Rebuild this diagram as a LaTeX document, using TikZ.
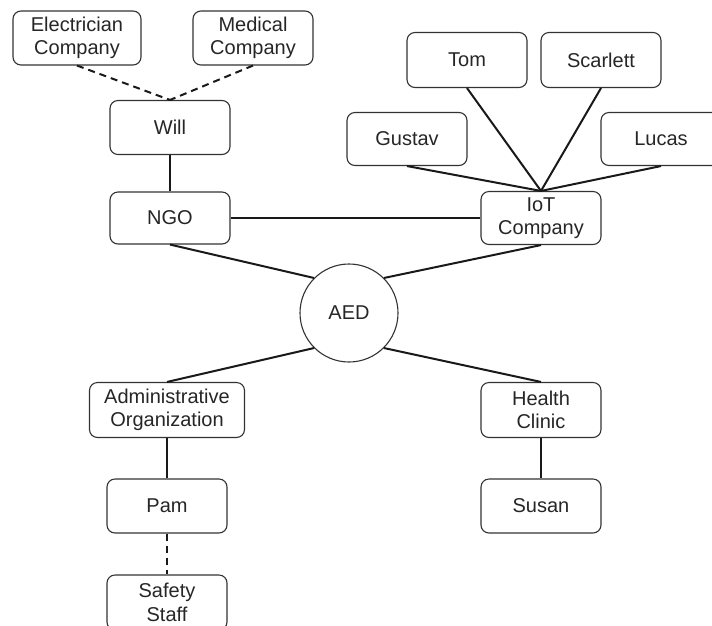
\documentclass[tikz,border=0pt]{standalone}
\usepackage{fontspec}
\setmainfont{Liberation Sans}
\begin{document}
\begin{tikzpicture}[x=1pt,y=-1pt,
  box/.style={draw=black!80, line width=1.1pt, rounded corners=8pt, fill=white,
    align=center, inner sep=0pt, minimum width=120pt, minimum height=54pt,
    font=\fontsize{20}{23.5}\selectfont, text=black!85},
  circ/.style={draw=black!80, line width=1.1pt, circle, fill=white, inner sep=0pt,
    minimum size=98pt, font=\fontsize{20}{23.5}\selectfont, text=black!85},
  link/.style={line width=2pt, draw=black!90},
  dlink/.style={link, dash pattern=on 7pt off 5pt}]
\useasboundingbox (0,0) rectangle (712,625);
\clip (0,0) rectangle (712,625);
\node[box, minimum width=128pt] (elec) at (77,38) {Electrician\\Company};
\node[box] (med) at (253,38) {Medical\\Company};
\node[box] (will) at (170,127.5) {Will};
\node[box, minimum height=52pt] (ngo) at (170,218) {NGO};
\node[box, minimum height=55pt] (tom) at (467,60) {Tom};
\node[box, minimum height=55pt] (scar) at (601,60) {Scarlett};
\node[box, minimum height=53pt] (gus) at (407,139) {Gustav};
\node[box, minimum height=53pt] (luc) at (661,139) {Lucas};
\node[box, minimum height=53pt] (iot) at (541,218) {IoT\\Company};
\node[circ] (aed) at (349,313) {AED};
\node[box, minimum width=155pt, minimum height=55pt] (adm) at (167,410) {Administrative\\Organization};
\node[box, minimum height=55pt] (hc) at (541,410) {Health\\Clinic};
\node[box] (pam) at (167,506) {Pam};
\node[box] (sus) at (541,506) {Susan};
\node[box, minimum height=55pt] (saf) at (167,602.5) {Safety\\Staff};
\draw[dlink] (elec.south) -- (will.north);
\draw[dlink] (med.south) -- (will.north);
\draw[link] (will.south) -- (ngo.north);
\draw[link] (ngo.east) -- (iot.west);
\draw[link] (gus.south) -- (iot.north);
\draw[link] (tom.south) -- (iot.north);
\draw[link] (scar.south) -- (iot.north);
\draw[link] (luc.south) -- (iot.north);
\draw[link] (ngo.south) -- (aed.135);
\draw[link] (iot.south) -- (aed.45);
\draw[link] (aed.-135) -- (adm.north);
\draw[link] (aed.-45) -- (hc.north);
\draw[link] (adm.south) -- (pam.north);
\draw[dlink] (pam.south) -- (saf.north);
\draw[link] (hc.south) -- (sus.north);
\end{tikzpicture}
\end{document}
